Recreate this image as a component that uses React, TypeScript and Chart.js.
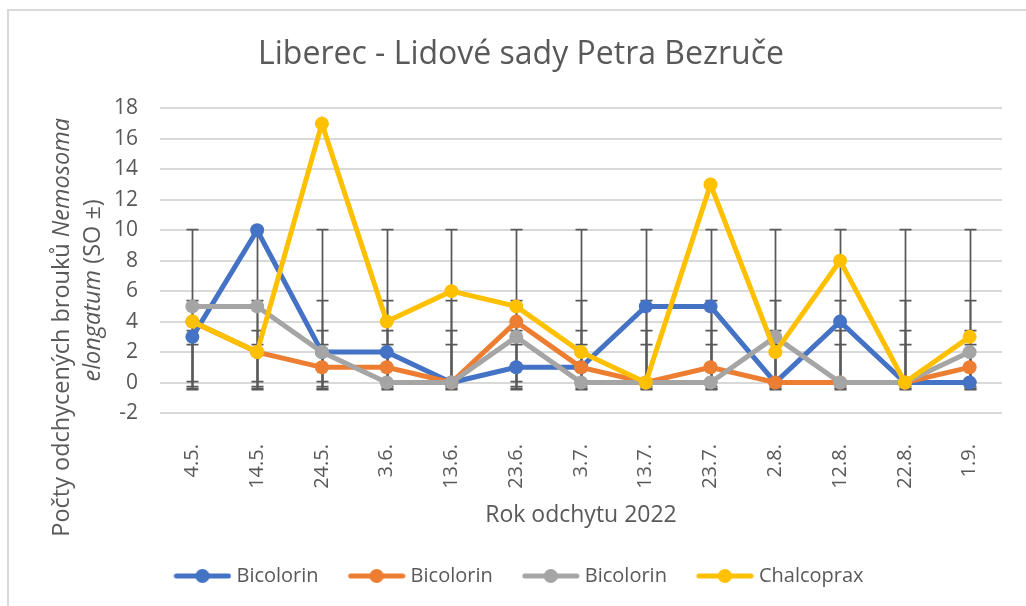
import React, { useEffect, useRef } from 'react';
import { Chart, registerables } from 'chart.js';

Chart.register(...registerables);

const categories = ['4.5.', '14.5.', '24.5.', '3.6.', '13.6.', '23.6.', '3.7.', '13.7.', '23.7.', '2.8.', '12.8.', '22.8.', '1.9.'];
const bicolorinA = [3, 10, 2, 2, 0, 1, 1, 5, 5, 0, 4, 0, 0];
const bicolorinB = [4, 2, 1, 1, 0, 4, 1, 0, 1, 0, 0, 0, 1];
const bicolorinC = [5, 5, 2, 0, 0, 3, 0, 0, 0, 3, 0, 0, 2];
const chalcoprax = [4, 2, 17, 4, 6, 5, 2, 0, 13, 2, 8, 0, 3];
const seriesLabels = ['Bicolorin', 'Bicolorin', 'Bicolorin', 'Chalcoprax'];
const seriesColors = ['#4472C4', '#ED7D31', '#A5A5A5', '#FFC000'];
const seriesValues = [bicolorinA, bicolorinB, bicolorinC, chalcoprax];
const yMin = -2;
const yMax = 18;
const yStep = 2;

const TEXT = '#595959';
const FONT = "'Open Sans', 'DejaVu Sans', sans-serif";

function legendIcon(color: string) {
  const c = document.createElement('canvas');
  c.width = 58;
  c.height = 16;
  const g = c.getContext('2d')!;
  g.strokeStyle = color;
  g.lineWidth = 5;
  g.lineCap = 'round';
  g.beginPath();
  g.moveTo(3, 8);
  g.lineTo(55, 8);
  g.stroke();
  g.fillStyle = color;
  g.beginPath();
  g.arc(29, 8, 7, 0, Math.PI * 2);
  g.fill();
  return c;
}

const backgroundPlugin = {
  id: 'bgBorder',
  beforeDraw(chart: any) {
    const { ctx, width, height } = chart;
    ctx.save();
    ctx.fillStyle = '#ffffff';
    ctx.fillRect(0, 0, width, height);
    ctx.strokeStyle = '#d9d9d9';
    ctx.lineWidth = 2;
    ctx.strokeRect(8, 10, width + 50, height + 50);
    ctx.restore();
  },
};

const errorBarPlugin = {
  id: 'errorBars',
  beforeDatasetsDraw(chart: any) {
    const { ctx } = chart;
    const x = chart.scales.x;
    const y = chart.scales.y;
    ctx.save();
    ctx.strokeStyle = '#595959';
    ctx.lineWidth = 1.75;
    chart.data.datasets.forEach((ds: any) => {
      const vals = ds.data as number[];
      const n = vals.length;
      const mean = vals.reduce((a, b) => a + b, 0) / n;
      const sd = Math.sqrt(vals.reduce((a, b) => a + (b - mean) * (b - mean), 0) / (n - 1));
      const top = Math.round(y.getPixelForValue(mean + sd)) + 0.5;
      const bot = Math.round(y.getPixelForValue(mean - sd)) + 0.5;
      vals.forEach((_v, i) => {
        const px = Math.round(x.getPixelForValue(i)) + 0.5;
        ctx.beginPath();
        ctx.moveTo(px, top);
        ctx.lineTo(px, bot);
        ctx.moveTo(px - 6, top);
        ctx.lineTo(px + 6, top);
        ctx.moveTo(px - 6, bot);
        ctx.lineTo(px + 6, bot);
        ctx.stroke();
      });
    });
    ctx.restore();
  },
};

function drawMixed(ctx: CanvasRenderingContext2D, parts: [string, boolean][], size: number) {
  const widths = parts.map(([t, it]) => {
    ctx.font = `${it ? 'italic ' : ''}${size}px ${FONT}`;
    return ctx.measureText(t).width;
  });
  const total = widths.reduce((a, b) => a + b, 0);
  let cx = -total / 2;
  parts.forEach(([t, it], i) => {
    ctx.font = `${it ? 'italic ' : ''}${size}px ${FONT}`;
    ctx.fillText(t, cx, 0);
    cx += widths[i];
  });
}

const yTitlePlugin = {
  id: 'yTitle',
  afterDraw(chart: any) {
    const { ctx, chartArea } = chart;
    ctx.save();
    ctx.fillStyle = TEXT;
    ctx.textBaseline = 'middle';
    ctx.textAlign = 'left';
    ctx.translate(chartArea.left - 98, chartArea.top + 219);
    ctx.rotate(-Math.PI / 2);
    drawMixed(ctx, [['Počty odchycených brouků ', false], ['Nemosoma', true]], 23.5);
    ctx.restore();
    ctx.save();
    ctx.fillStyle = TEXT;
    ctx.textBaseline = 'middle';
    ctx.textAlign = 'left';
    ctx.translate(chartArea.left - 67, chartArea.top + 182);
    ctx.rotate(-Math.PI / 2);
    drawMixed(ctx, [['elongatum', true], [' (SO ±)', false]], 23.5);
    ctx.restore();
  },
};

export default function App() {
  const ref = useRef<HTMLCanvasElement>(null);
  useEffect(() => {
    document.body.style.margin = '0';
    const icons = seriesColors.map(legendIcon);
    const chart = new Chart(ref.current!, {
      type: 'line',
      data: {
        labels: categories,
        datasets: seriesValues.map((vals, i) => ({
          label: seriesLabels[i],
          data: vals,
          borderColor: seriesColors[i],
          backgroundColor: seriesColors[i],
          pointBackgroundColor: seriesColors[i],
          pointBorderColor: seriesColors[i],
          borderWidth: 5,
          pointRadius: 7,
          pointBorderWidth: 0,
          tension: 0,
          order: 4 - i,
        })),
      },
      options: {
        animation: false,
        responsive: false,
        layout: { padding: { left: 40, right: 24, bottom: 10, top: 0 } },
        plugins: {
          title: {
            display: true,
            text: 'Liberec - Lidové sady Petra Bezruče',
            color: TEXT,
            font: { family: FONT, size: 32, weight: 'normal' },
            padding: { top: 36, bottom: 34 },
          },
          legend: {
            position: 'bottom',
            labels: {
              color: TEXT,
              font: { family: FONT, size: 20 },
              usePointStyle: true,
              pointStyleWidth: 48,
              boxHeight: 16,
              padding: 34,
              sort: (a: any, b: any) => a.datasetIndex - b.datasetIndex,
              generateLabels: (c: any) => {
                const items = Chart.defaults.plugins.legend.labels.generateLabels(c);
                return items.map((it: any) => ({ ...it, pointStyle: icons[it.datasetIndex], fontColor: TEXT }));
              },
            },
          },
          tooltip: { enabled: false },
        },
        scales: {
          x: {
            offset: true,
            grid: { display: false },
            border: { display: false },
            ticks: {
              color: TEXT,
              font: { family: FONT, size: 20 },
              minRotation: 90,
              maxRotation: 90,
              autoSkip: false,
              padding: 23,
            },
            title: {
              display: true,
              text: 'Rok odchytu 2022',
              color: TEXT,
              font: { family: FONT, size: 23 },
              padding: { top: 10, bottom: 3 },
            },
            afterFit: (scale: any) => {
              scale.height = 119;
            },
          },
          y: {
            min: yMin,
            max: yMax,
            grid: { color: '#d9d9d9', lineWidth: 2, drawTicks: false },
            border: { display: false },
            ticks: {
              stepSize: yStep,
              color: TEXT,
              font: { family: FONT, size: 21 },
              padding: 22,
            },
            afterFit: (scale: any) => {
              scale.width = 120;
            },
          },
        },
      },
      plugins: [backgroundPlugin, errorBarPlugin, yTitlePlugin],
    } as any);
    return () => chart.destroy();
  }, []);
  return (
    <div style={{ position: 'absolute', left: 0, top: 0, width: 1026, height: 606 }}>
      <canvas ref={ref} width={1026} height={606} />
    </div>
  );
}
